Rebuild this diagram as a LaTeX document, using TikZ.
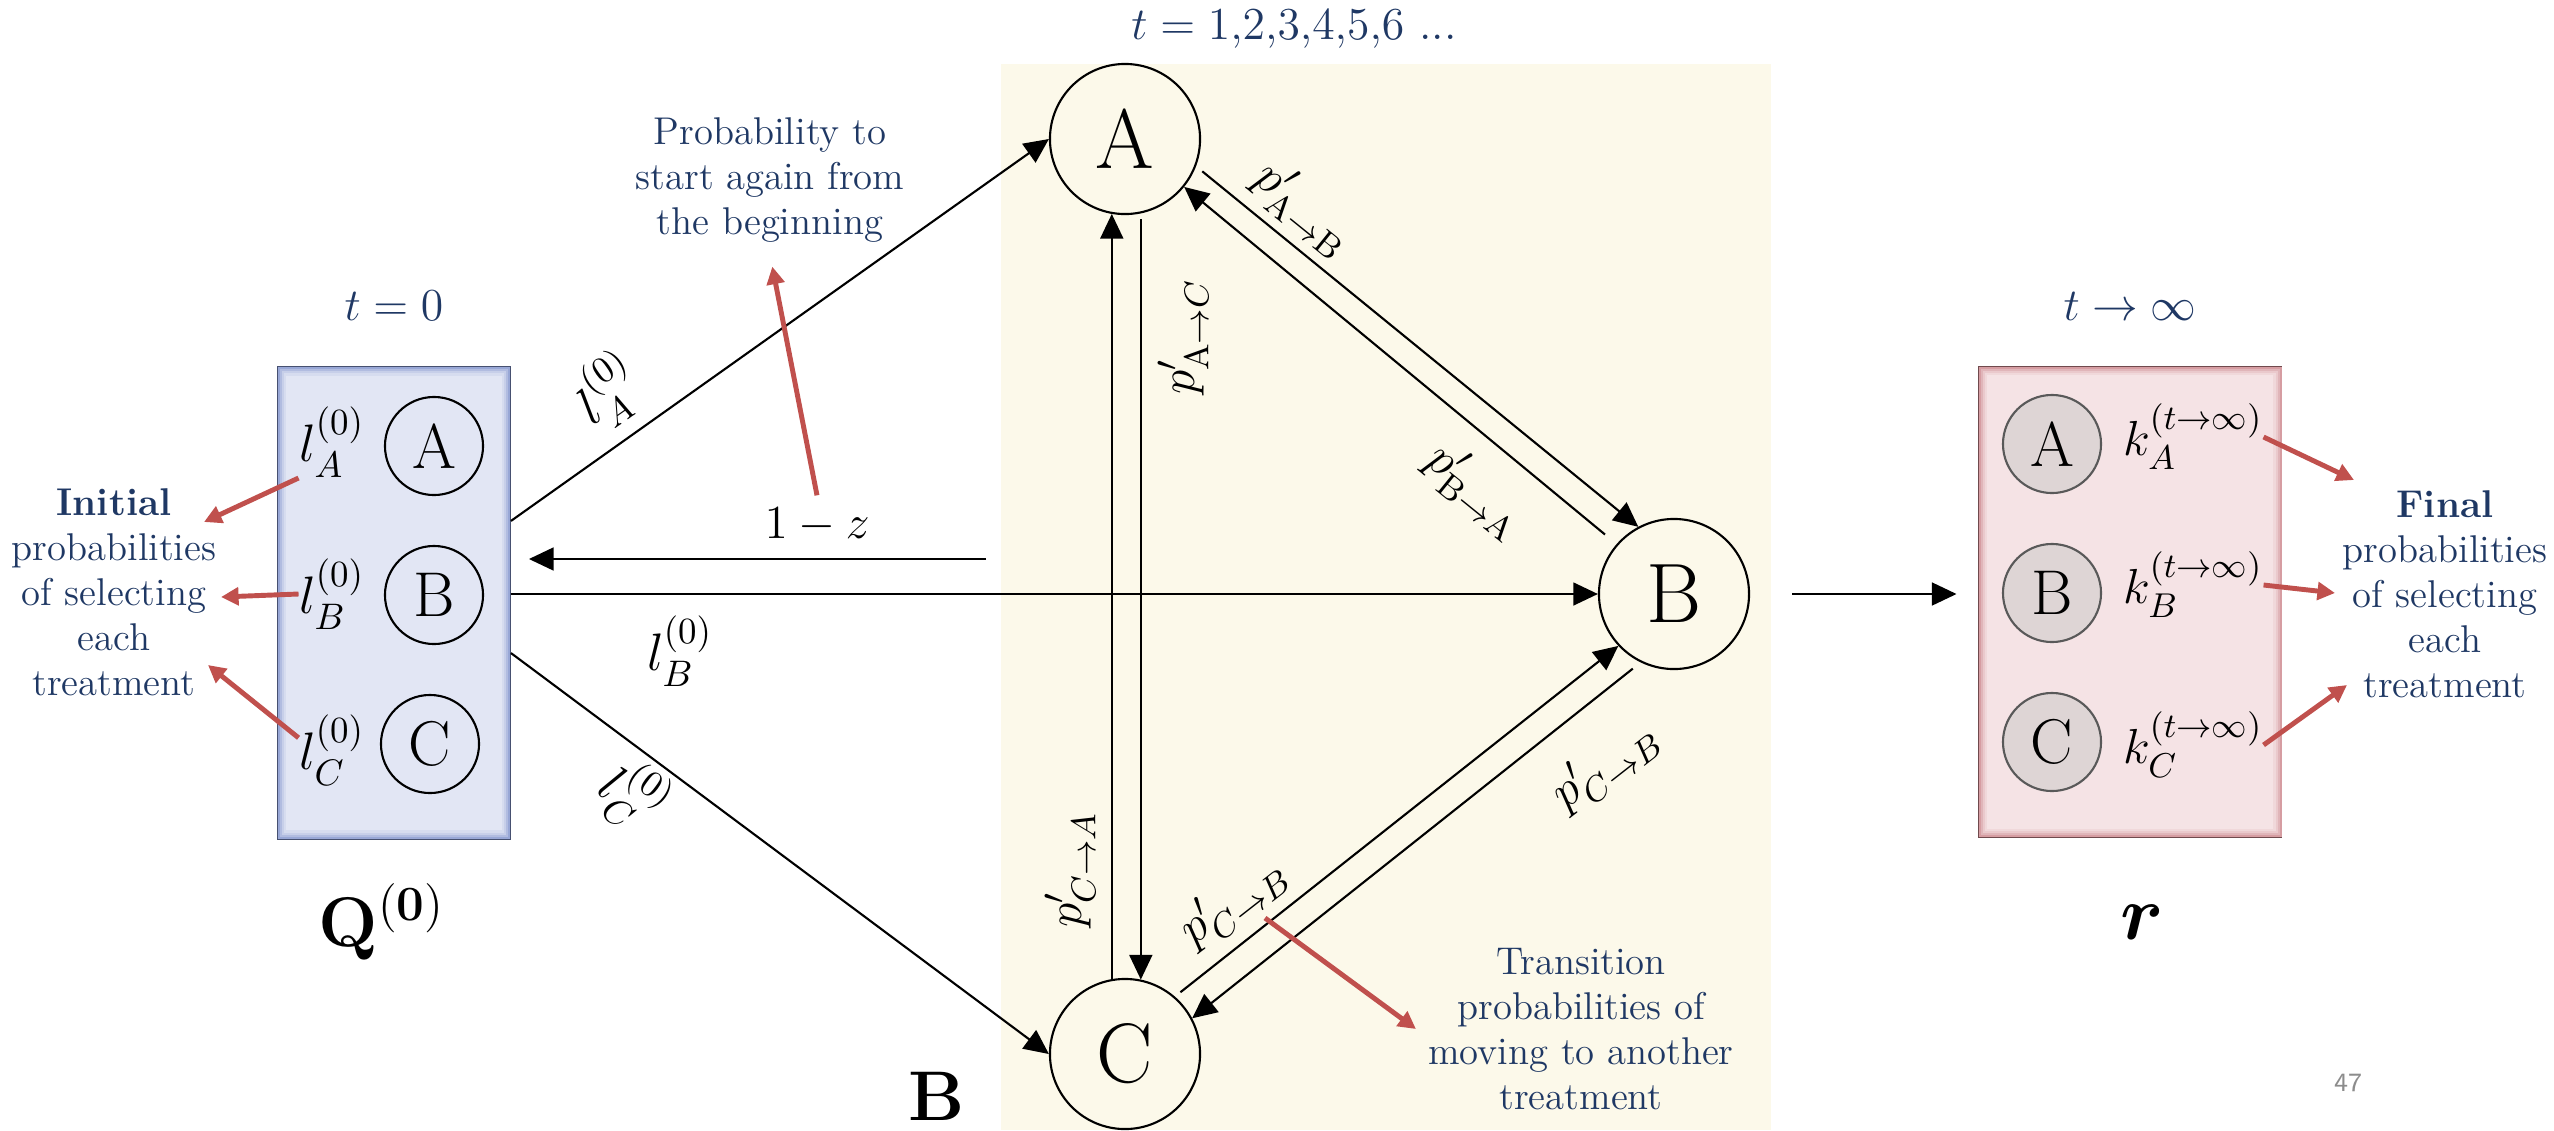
\RequirePackage{fix-cm}
\documentclass[tikz,border=0pt]{standalone}
\usepackage{amsmath}
\usepackage{amssymb}
\usepackage{tikz}
\usepackage{xcolor}
\usetikzlibrary{arrows.meta,calc}
\definecolor{noteblue}{RGB}{31,56,100}
\definecolor{notered}{RGB}{192,80,77}
\definecolor{stepyellow}{RGB}{252,249,234}
\definecolor{initblue}{RGB}{226,230,244}
\definecolor{initedge}{RGB}{128,146,204}
\definecolor{finalpink}{RGB}{245,227,229}
\definecolor{finaledge}{RGB}{204,134,140}
\definecolor{ballin}{RGB}{222,213,213}
\definecolor{ballout}{RGB}{158,148,148}
\pgfdeclareradialshading{treatball}{\pgfpoint{0bp}{0bp}}{color(0bp)=(ballin); color(34bp)=(ballin); color(50bp)=(ballout)}

\begin{document}
\begin{tikzpicture}[x=0.01cm, y=-0.01cm,
    treat/.style={circle, draw, line width=0.6pt, minimum size=1.5cm, inner sep=0pt, font=\fontsize{24}{28}\selectfont},
    smalltreat/.style={circle, draw, line width=0.6pt, minimum size=0.98cm, inner sep=0pt, font=\fontsize{18}{21}\selectfont},
    balltreat/.style={smalltreat, draw=black!65, shade, shading=treatball},
    link/.style={line width=0.6pt, -{Triangle[length=7pt,width=6.5pt]}},
    pointer/.style={notered, line width=1.4pt, -{Triangle[length=5pt,width=5pt]}},
    note/.style={noteblue, align=center, font=\fontsize{11}{12.8}\selectfont},
    timelabel/.style={noteblue, font=\fontsize{13}{15}\selectfont},
    prob/.style={inner sep=0pt, font=\fontsize{15}{18}\selectfont},
    trans/.style={inner sep=0pt, font=\fontsize{14}{17}\selectfont}]
    \useasboundingbox (0,0) rectangle (2554,1130);

    % steps t = 1,2,3,...
    \fill[stepyellow] (1001,64) rectangle (1771,1130);

    % initial probabilities Q(0)
    \node[draw=initedge!55!black, line width=0.5pt, fill=initblue, minimum width=2.32cm, minimum height=4.71cm] (qbox) at (394,603) {};
    \foreach \d/\c in {2/75, 4/50, 6/28, 8/12}
        \draw[initedge!\c!initblue, line width=0.6pt] ($(qbox.south west)+(\d,-\d)$) rectangle ($(qbox.north east)+(-\d,\d)$);
    \node[smalltreat] (qa) at (434,446) {A};
    \node[smalltreat] (qb) at (434,595) {B};
    \node[smalltreat] (qc) at (430,744) {C};
    \node[prob] (la) at (332,442) {$l_A^{(0)}$};
    \node[prob] (lb) at (332,594) {$l_B^{(0)}$};
    \node[prob] (lc) at (332,750) {$l_C^{(0)}$};
    \node[timelabel] (t0) at (394,306) {$t = 0$};
    \node[font=\fontsize{20}{24}\selectfont] (qname) at (382,922) {$\mathbf{Q}^{(\mathbf{0})}$};

    \node[note] (initial) at (114,592) {\textbf{Initial}\\probabilities\\of selecting\\each\\treatment};
    \coordinate (ia) at (204,522);
    \coordinate (ib) at (221,597);
    \coordinate (ic) at (208,665);
    \draw[pointer] (la.south west) -- (ia);
    \draw[pointer] (lb.west) -- (ib);
    \draw[pointer] (lc.160) -- (ic);

    % the chain
    \node[treat] (A) at (1125,139) {A};
    \node[treat] (B) at (1674,594) {B};
    \node[treat] (C) at (1125,1054) {C};
    \node[timelabel] (tstep) at (1294,29) {$t = 1{,}2{,}3{,}4{,}5{,}6$ ...};

    \draw[link, shorten <=0.08cm] (A.-21) -- (B.118);
    \draw[link, shorten <=0.15cm] (B.139) -- (A.-39);
    \draw[link, shorten <=0.06cm] (A.-78) -- (C.78);
    \draw[link] (C.100) -- (A.-100);
    \draw[link, shorten <=0.07cm] (C.49) -- (B.223);
    \draw[link, shorten <=0.10cm] (B.244) -- (C.28);

    \node[trans, rotate=-39] (pab) at (1304,208) {$p'_{\mathrm{A}\to\mathrm{B}}$};
    \node[trans, rotate=90] (pac) at (1183,337) {$p'_{\mathrm{A}\to C}$};
    \node[trans, rotate=-39] (pba) at (1476,490) {$p'_{\mathrm{B}\to\mathrm{A}}$};
    \node[trans, rotate=90] (pca) at (1070,870) {$p'_{C\to A}$};
    \node[trans, rotate=38] (pcb) at (1233,901) {$p'_{C\to B}$};
    \node[trans, rotate=38] (pcbb) at (1605,765) {$p'_{C\to B}$};

    % from Q(0) into the chain
    \draw[link] ([yshift=0.82cm]qbox.east) -- (A.west);
    \draw[link] (qbox.east |- B.west) -- (B.west);
    \draw[link] ([yshift=-0.5cm]qbox.east) -- (C.west);
    \node[prob, rotate=35] (lblA) at (608,391) {$l_A^{(0)}$};
    \node[prob] (lblB) at (680,651) {$l_B^{(0)}$};
    \node[prob, rotate=-36.6] (lblC) at (634,796) {$l_C^{(0)}$};

    % start again
    \coordinate (restart) at (986,559);
    \draw[link, shorten >=0.18cm] (restart) -- (restart -| qbox.east);
    \node[font=\fontsize{13.5}{16}\selectfont] (omz) at (817,525) {$1 - z$};
    \node[note] (again) at (770,180) {Probability to\\start again from\\the beginning};
    \draw[pointer, shorten >=0.12cm] (omz.north) -- (again.south);

    \node[note] (moving) at (1581,1029) {Transition\\probabilities of\\moving to another\\treatment};
    \coordinate (tp) at (1265,918);
    \draw[pointer] (tp) -- (moving.west);
    \node[font=\fontsize{20}{24}\selectfont] (bname) at (937,1096) {$\mathbf{B}$};

    % final probabilities r
    \node[draw=finaledge!55!black, line width=0.5pt, fill=finalpink, minimum width=3.03cm, minimum height=4.70cm] (rbox) at (2130,602) {};
    \foreach \d/\c in {2/75, 4/50, 6/28, 8/12}
        \draw[finaledge!\c!finalpink, line width=0.6pt] ($(rbox.south west)+(\d,-\d)$) rectangle ($(rbox.north east)+(-\d,\d)$);
    \draw[link, shorten <=0.42cm, shorten >=0.21cm] (B.east) -- (rbox.west |- B.east);
    \node[balltreat] (ra) at (2052,444) {A};
    \node[balltreat] (rb) at (2052,593) {B};
    \node[balltreat] (rc) at (2052,742) {C};
    \node[prob, font=\fontsize{14}{17}\selectfont] (ka) at (2193,437) {$k_A^{(t\to\infty)}$};
    \node[prob, font=\fontsize{14}{17}\selectfont] (kb) at (2193,585) {$k_B^{(t\to\infty)}$};
    \node[prob, font=\fontsize{14}{17}\selectfont] (kc) at (2193,745) {$k_C^{(t\to\infty)}$};
    \node[timelabel] (tinf) at (2130,306) {$t \to \infty$};
    \node[font=\fontsize{22}{26}\selectfont] (rname) at (2142,922) {$\boldsymbol{r}$};

    \node[note] (final) at (2445,594) {\textbf{Final}\\probabilities\\of selecting\\each\\treatment};
    \coordinate (fa) at (2354,480);
    \coordinate (fb) at (2335,593);
    \coordinate (fc) at (2347,685);
    \draw[pointer] (ka.east) -- (fa);
    \draw[pointer] (kb.east) -- (fb);
    \draw[pointer] (kc.east) -- (fc);

    \node[text=black!45, font=\sffamily\fontsize{7.5}{9}\selectfont] (pagenum) at (2348,1083) {47};
\end{tikzpicture}
\end{document}
